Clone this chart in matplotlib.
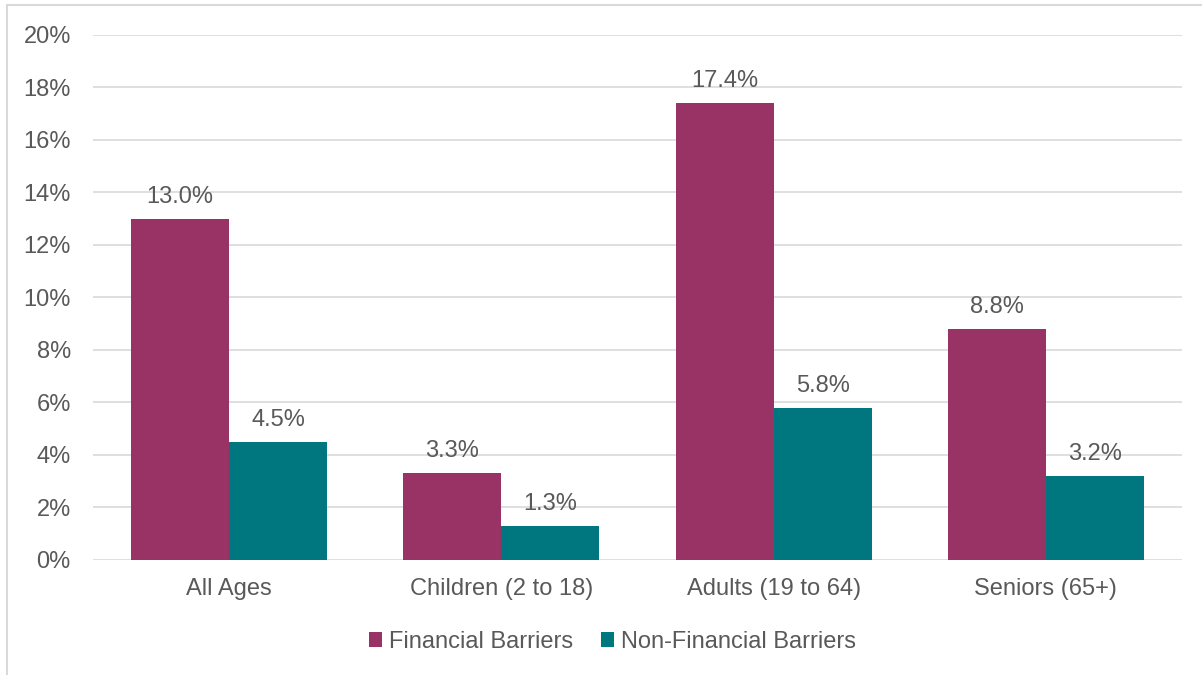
import matplotlib.pyplot as plt
import numpy as np
from matplotlib.patches import Rectangle

categories = ['All Ages', 'Children (2 to 18)', 'Adults (19 to 64)', 'Seniors (65+)']
financial = [13.0, 3.3, 17.4, 8.8]
non_financial = [4.5, 1.3, 5.8, 3.2]
series_names = ['Financial Barriers', 'Non-Financial Barriers']
colors = ['#993366', '#00777F']
gray = '#595959'
fs = 17

plt.rcParams['font.family'] = ['Liberation Sans', 'DejaVu Sans']

fig = plt.figure(figsize=(12.02, 6.75), dpi=100)
ax = fig.add_axes([0.0774, 0.1704, 0.906, 0.7778])

# outer chart border (cut off at right and bottom like the source)
fig.patches.append(Rectangle((7 / 1202, -0.1), 1.2, 1 - 5 / 675 + 0.1,
                             transform=fig.transFigure, fill=False,
                             edgecolor='#d9d9d9', linewidth=1.5))

x = np.arange(len(categories))
w = 0.36
for vals, off, c, name in [(financial, -w / 2, colors[0], series_names[0]),
                           (non_financial, w / 2, colors[1], series_names[1])]:
    bars = ax.bar(x + off, vals, w, color=c, label=name, zorder=3)
    for b, v in zip(bars, vals):
        ax.annotate(f'{v:.1f}%', (b.get_x() + b.get_width() / 2, v),
                    xytext=(0, 8), textcoords='offset points',
                    ha='center', va='bottom', fontsize=fs, color=gray)

ax.set_xlim(-0.5, 3.5)
ax.set_ylim(0, 20)
ax.set_yticks(range(0, 21, 2))
ax.set_yticklabels([f'{t}%' for t in range(0, 21, 2)])
ax.set_xticks(x)
ax.set_xticklabels(categories)
ax.tick_params(length=0, labelsize=fs, labelcolor=gray)
ax.tick_params(axis='y', pad=16)
ax.tick_params(axis='x', pad=13)
ax.grid(axis='y', color='#d9d9d9', linewidth=1.2, zorder=0)
for s in ax.spines.values():
    s.set_visible(False)

ax.legend(loc='center', bbox_to_anchor=(0.477, -0.156), ncol=2, frameon=False,
          fontsize=fs, labelcolor=gray, handlelength=0.55, handleheight=0.55,
          handletextpad=0.3, columnspacing=1.2)

fig.savefig('out.png', dpi=100)
